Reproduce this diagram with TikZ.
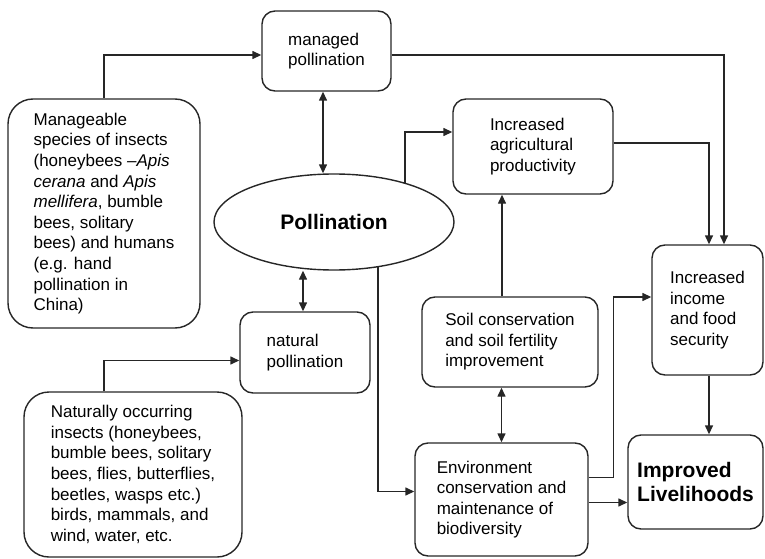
\documentclass[tikz,border=0pt]{standalone}
\usepackage{fontspec}
\setmainfont{Liberation Sans}
\usetikzlibrary{arrows.meta,shapes.geometric,calc}
\begin{document}
\begin{tikzpicture}[x=1pt,y=-1pt,
  box/.style={draw=black!85, line width=1.4pt, rounded corners=13pt, align=left, inner sep=0pt,
    font=\fontsize{17}{20.6}\selectfont},
  bigbox/.style={box, rounded corners=25pt},
  boldbox/.style={box, font=\bfseries\fontsize{21}{23.5}\selectfont},
  conn/.style={line width=1.4pt, draw=black!85},
  arr/.style={conn, -{Triangle[length=9pt,width=8pt]}},
  darr/.style={conn, {Triangle[length=9pt,width=8pt]}-{Triangle[length=9pt,width=8pt]}},
]
\useasboundingbox (0,0) rectangle (765,559);

\node[box, minimum width=129pt, minimum height=80pt] (managed) at (326.5,51) {managed\\pollination};
\node[bigbox, minimum width=192pt, minimum height=229pt] (manageable) at (104,213.5)
  {Manageable\\species of insects\\(honeybees \textit{–Apis}\\\textit{cerana} and \textit{Apis}\\\textit{mellifera}, bumble\\bees, solitary\\bees) and humans\\(e.g. hand\\pollination in\\China)};
\node[draw=black!85, line width=1.4pt, ellipse, inner sep=0pt, minimum width=240pt, minimum height=96pt,
  font=\bfseries\fontsize{21}{24}\selectfont] (pollination) at (334,222) {Pollination};
\node[box, minimum width=160pt, minimum height=95pt] (agri) at (533,146.5) {Increased\\agricultural\\productivity};
\node[box, minimum width=111pt, minimum height=130pt] (income) at (707.5,310) {Increased\\income\\and food\\security};
\node[box, minimum width=176pt, minimum height=90pt] (soil) at (510,342) {Soil conservation\\and soil fertility\\improvement};
\node[box, minimum width=173pt, minimum height=113pt] (env) at (501.5,499.5) {Environment\\conservation and\\maintenance of\\biodiversity};
\node[boldbox, minimum width=135pt, minimum height=94pt] (improved) at (695.5,482) {Improved\\Livelihoods};
\node[box, minimum width=130pt, minimum height=81pt] (natural) at (305,352.5) {natural\\pollination};
\node[bigbox, minimum width=218pt, minimum height=165pt] (naturally) at (133,474.5)
  {Naturally occurring\\insects (honeybees,\\bumble bees, solitary\\bees, flies, butterflies,\\beetles, wasps etc.)\\birds, mammals, and\\wind, water, etc.};

% connectors
\draw[arr] (manageable.north) |- ([yshift=-4pt]managed.west);
\draw[arr] ([yshift=-4pt]managed.east) -| ([xshift=16.5pt]income.north);
\draw[arr] ([yshift=3.5pt]agri.east) -| ([xshift=1.5pt]income.north);
\draw[arr] (pollination.29) |- ([yshift=14.5pt]agri.west);
\draw[arr] (pollination.-46) |- ([yshift=8pt]env.west);
\draw[darr] ([xshift=-3.5pt]managed.south) -- ([xshift=-3.5pt]managed.south |- pollination.north);
\draw[darr] ([xshift=-2pt]natural.north |- pollination.south) -- ([xshift=-2pt]natural.north);
\draw[arr] ([xshift=-29pt]naturally.north) |- ([yshift=-8pt]natural.west);
\draw[arr] ([xshift=-8pt]soil.north) -- ([xshift=-8pt]soil.north |- agri.south);
\draw[darr] (env.north |- soil.south) -- (env.north);
\draw[arr] ([yshift=22pt]env.east) -- ++(25,0) |- ([yshift=13pt]income.west);
\draw[arr] ([yshift=-3pt]env.east) -- ([yshift=-3pt]env.east -| improved.west);
\draw[arr] ([xshift=1.5pt]income.south) -- ([xshift=1.5pt]income.south |- improved.north);
\end{tikzpicture}
\end{document}
